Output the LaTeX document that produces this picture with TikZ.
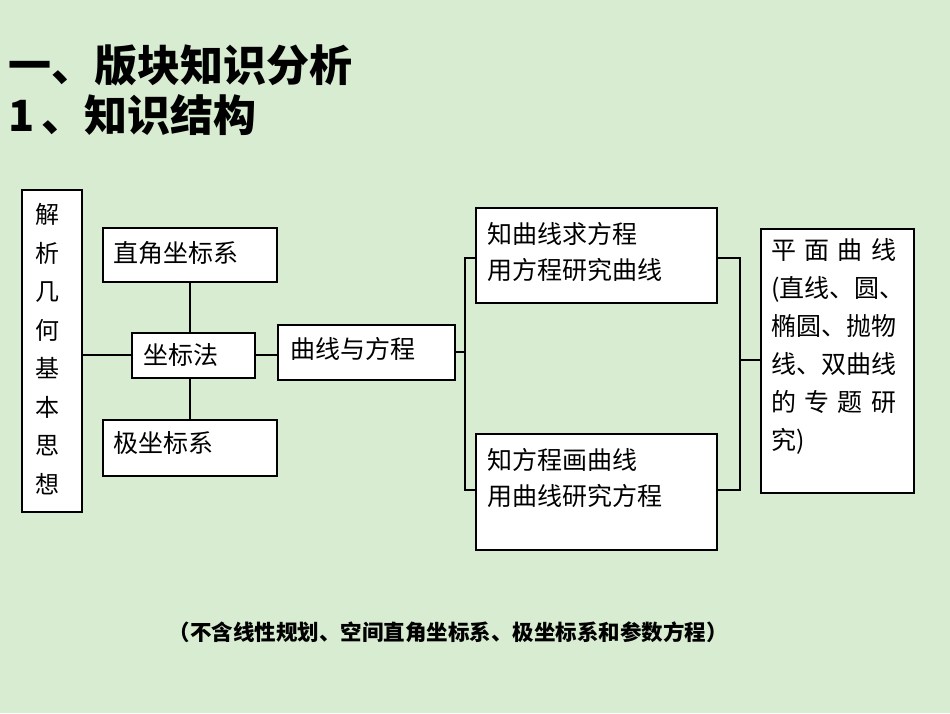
\documentclass[tikz,border=0pt]{standalone}
\usepackage{fontspec}
\newfontfamily\cjk{Noto Sans CJK SC}
\begin{document}
\begin{tikzpicture}[x=1pt,y=-1pt,
  bx/.style={draw=black,line width=1.2pt,fill=white,inner sep=0pt},
  ln/.style={line width=1.2pt},
  tx/.style={font=\cjk\fontsize{25}{29}\selectfont,anchor=west,inner sep=0pt}]
\fill[fill={rgb,255:red,216;green,236;blue,210}] (0,0) rectangle (950,713);
\useasboundingbox (0,0) rectangle (950,713);
\node[font=\cjk\bfseries\fontsize{43}{48}\selectfont,anchor=west,inner sep=0pt] (t1) at (8,65) {一、版块知识分析};
\node[font=\cjk\bfseries\fontsize{43}{48}\selectfont,anchor=west,inner sep=0pt] (t2) at (8,115) {1\,、知识结构};
% boxes
\draw[bx] (22,190) rectangle (82,512);
\node[font=\cjk\fontsize{24}{38.5}\selectfont,align=center,inner sep=0pt] (jx) at (47,349) {解\\析\\几\\何\\基\\本\\思\\想};
\draw[bx] (103,228) rectangle (277,282);
\node[tx] (zj) at (113,253) {直角坐标系};
\draw[bx] (132,333) rectangle (255,378);
\node[tx] (zb) at (143,355) {坐标法};
\draw[bx] (103,420) rectangle (277,476);
\node[tx] (jz) at (113,443) {极坐标系};
\draw[bx] (278,325) rectangle (455,380);
\node[tx] (qx) at (290,349) {曲线与方程};
\draw[bx] (476,208) rectangle (717,303);
\node[tx,align=left,font=\cjk\fontsize{25}{36}\selectfont] (a1) at (487,252) {知曲线求方程\\用方程研究曲线};
\draw[bx] (476,434) rectangle (717,550);
\node[tx,align=left,font=\cjk\fontsize{25}{36}\selectfont] (a2) at (487,478) {知方程画曲线\\用曲线研究方程};
\draw[bx] (761,229) rectangle (914,493);
\node[font=\cjk\fontsize{25}{38}\selectfont,align=left,anchor=north west,inner sep=0pt] (pm) at (771,238) {平\,\,面\,\,曲\,\,线\\(直线、圆、\\椭圆、抛物\\线、双曲线\\的\,\,专\,\,题\,\,研\\究)};
% connectors
\coordinate (L1) at (82,355); \coordinate (L2) at (132,355);
\draw[ln] (L1) -- (L2);
\draw[ln] (190,282) -- (190,333);
\draw[ln] (190,378) -- (190,420);
\draw[ln] (255,355) -- (278,355);
\draw[ln] (455,352) -- (465,352);
\draw[ln] (476,258) -- (465,258) -- (465,490) -- (476,490);
\draw[ln] (717,258) -- (740,258) -- (740,490) -- (717,490);
\draw[ln] (740,360) -- (761,360);
\node[font=\cjk\bfseries\fontsize{21.5}{24}\selectfont,inner sep=0pt] (note) at (448,632) {（不含线性规划、空间直角坐标系、极坐标系和参数方程）};
\end{tikzpicture}
\end{document}
